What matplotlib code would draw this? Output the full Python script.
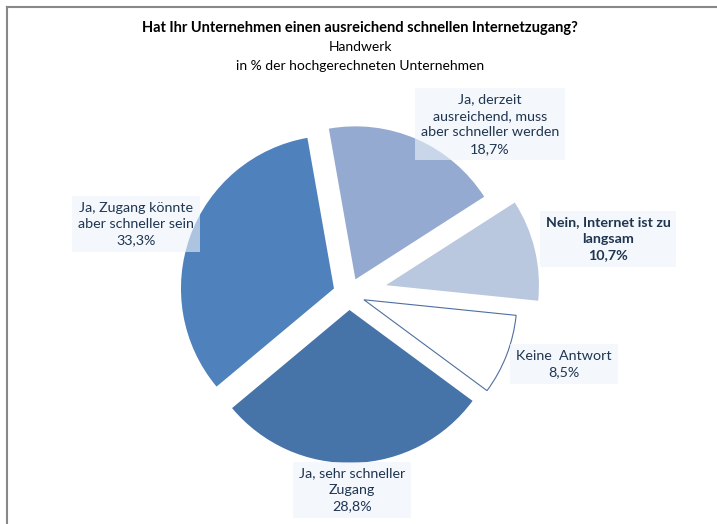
import matplotlib.pyplot as plt
from matplotlib.lines import Line2D

plt.rcParams['font.family'] = ['Lato', 'DejaVu Sans']

# Data (clockwise from just left of 12 o'clock)
labels = ['Ja, derzeit\nausreichend, muss\naber schneller werden',
          'Nein, Internet ist zu\nlangsam',
          'Keine  Antwort',
          'Ja, sehr schneller\nZugang',
          'Ja, Zugang könnte\naber schneller sein']
values = [18.7, 10.7, 8.5, 28.8, 33.3]
colors = ['#95AAD0', '#B9C7DF', '#FFFFFF', '#4673A8', '#4F81BD']
# explode offsets in pixels (pie is drawn in pixel data units)
explode = [16, 38, 16, 16, 16]

# label box centres in pixels (x from left, y from top)
label_pos = [(490, 124), (608, 239), (564, 364), (352, 490), (136, 224)]
bold = [False, True, False, False, False]

W, H = 717, 524
fig = plt.figure(figsize=(W / 100, H / 100), dpi=100)
ax = fig.add_axes([0, 0, 1, 1])

wedges, _ = ax.pie(values, colors=colors, explode=explode, startangle=100,
                   counterclock=False, radius=153, center=(349, H - 294),
                   frame=True)
ax.set_xlim(0, W)
ax.set_ylim(0, H)
ax.set_aspect('equal')
ax.axis('off')
for w, c in zip(wedges, colors):
    if c == '#FFFFFF':
        w.set_edgecolor('#4F6FA0')
        w.set_linewidth(0.8)

for lab, v, (x, y), b in zip(labels, values, label_pos, bold):
    txt = lab + '\n' + f'{v:.1f}'.replace('.', ',') + '%'
    ax.text(x, H - y, txt, ha='center', va='center', fontsize=10.3,
            color='#1F3550', fontweight='bold' if b else 'normal',
            linespacing=1.45,
            bbox=dict(boxstyle='square,pad=0.4', facecolor='#EDF2FA',
                      edgecolor='none', alpha=0.6))

fig.text(360 / W, 1 - 28 / H, 'Hat Ihr Unternehmen einen ausreichend schnellen Internetzugang?',
         ha='center', va='center', fontsize=10.5, fontweight='bold', color='black')
fig.text(360 / W, 1 - 47 / H, 'Handwerk', ha='center', va='center', fontsize=10)
fig.text(360 / W, 1 - 66 / H, 'in % der hochgerechneten Unternehmen',
         ha='center', va='center', fontsize=10)

# chart frame (partially visible)
fig.add_artist(Line2D([7 / W, 1], [1 - 6.5 / H, 1 - 6.5 / H], color='#888888', lw=1.5))
fig.add_artist(Line2D([7 / W, 7 / W], [0, 1 - 6.5 / H], color='#888888', lw=1.5))

fig.savefig('out.png', dpi=100)
